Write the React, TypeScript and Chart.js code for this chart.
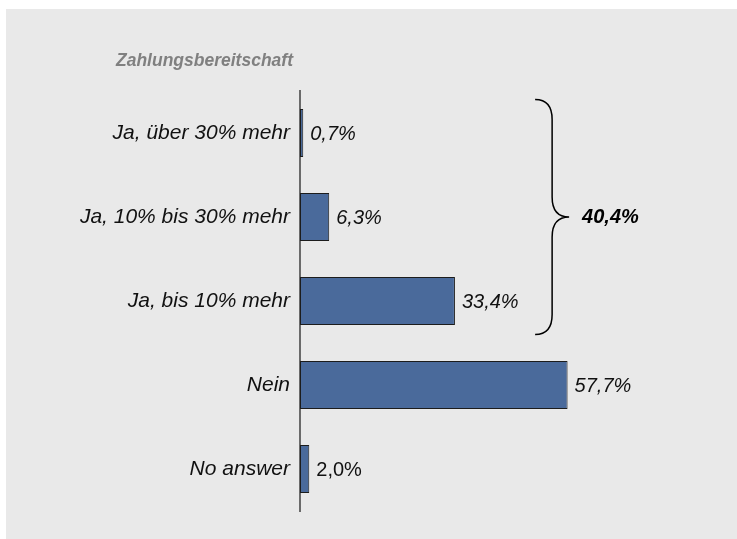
import React, { useEffect, useRef } from "react";
import { Chart, registerables } from "chart.js";

Chart.register(...registerables);

const categories = [
  "Ja, über 30% mehr",
  "Ja, 10% bis 30% mehr",
  "Ja, bis 10% mehr",
  "Nein",
  "No answer",
];
const values = [0.7, 6.3, 33.4, 57.7, 2.0];
const valueLabels = ["0,7%", "6,3%", "33,4%", "57,7%", "2,0%"];
const uprightLabels = [4];
const bracketGroup = [0, 1, 2];
const titleText = "Zahlungsbereitschaft";
const X_MAX = 80;
const BRACKET_AT = 50.7;

const FONT = '"Liberation Sans", Arial, sans-serif';

const fmt = (v: number) => v.toFixed(1).replace(".", ",") + "%";

const overlayPlugin = {
  id: "overlay",
  afterDatasetsDraw(chart: any) {
    const ctx = chart.ctx;
    const x = chart.scales.x;
    const y = chart.scales.y;
    ctx.save();
    // title
    ctx.fillStyle = "#808080";
    ctx.font = `italic bold 17.5px ${FONT}`;
    ctx.textAlign = "left";
    ctx.textBaseline = "middle";
    ctx.fillText(titleText, 110, 52);

    // value labels
    const meta = chart.getDatasetMeta(0);
    meta.data.forEach((bar: any, i: number) => {
      const style = uprightLabels.includes(i) ? "normal" : "italic";
      ctx.font = `${style} 20px ${FONT}`;
      ctx.fillStyle = "#111";
      ctx.textAlign = "left";
      ctx.textBaseline = "middle";
      ctx.fillText(valueLabels[i], bar.x + 7, bar.y + 1);
    });

    // bracket
    const first = bracketGroup[0];
    const last = bracketGroup[bracketGroup.length - 1];
    const top = y.getPixelForValue(first - 0.4);
    const bot = y.getPixelForValue(last + 0.4);
    const mid = (top + bot) / 2;
    const x0 = x.getPixelForValue(BRACKET_AT);
    const xv = x0 + 17;
    const xt = xv + 17;
    const r = 20;
    ctx.beginPath();
    ctx.moveTo(x0, top);
    ctx.quadraticCurveTo(xv, top, xv, top + r);
    ctx.lineTo(xv, mid - r);
    ctx.quadraticCurveTo(xv, mid, xt, mid);
    ctx.quadraticCurveTo(xv, mid, xv, mid + r);
    ctx.lineTo(xv, bot - r);
    ctx.quadraticCurveTo(xv, bot, x0, bot);
    ctx.strokeStyle = "#000";
    ctx.lineWidth = 1.5;
    ctx.stroke();

    const sum = bracketGroup.reduce((s, i) => s + values[i], 0);
    ctx.font = `italic bold 20px ${FONT}`;
    ctx.fillStyle = "#000";
    ctx.textAlign = "left";
    ctx.textBaseline = "middle";
    ctx.fillText(fmt(sum), xt + 13, mid);
    ctx.restore();
  },
};

export default function App() {
  const ref = useRef<HTMLCanvasElement>(null);
  useEffect(() => {
    if (!ref.current) return;
    const chart = new Chart(ref.current, {
      type: "bar",
      data: {
        labels: categories,
        datasets: [
          {
            data: values,
            backgroundColor: "#4a6a9b",
            borderColor: "#1c1c1c",
            borderWidth: 1,
            borderSkipped: false,
            barPercentage: 0.57,
            categoryPercentage: 1,
          },
        ],
      },
      options: {
        indexAxis: "y",
        responsive: false,
        animation: false,
        layout: { padding: { left: 0, top: 82, bottom: 28, right: 66 } },
        plugins: {
          legend: { display: false },
          tooltip: { enabled: false },
          title: { display: false },
        },
        scales: {
          x: { display: false, min: 0, max: X_MAX },
          y: {
            afterFit: (scale: any) => {
              scale.width = 294;
            },
            grid: { display: false, drawTicks: false },
            border: { display: true, color: "#6a6a6a", width: 2 },
            ticks: {
              padding: 10,
              color: "#111",
              font: { family: FONT, size: 21, style: "italic" },
            },
          },
        },
      },
      plugins: [overlayPlugin],
    });
    return () => chart.destroy();
  }, []);
  return (
    <div
      style={{
        position: "absolute",
        left: 6,
        top: 9,
        width: 731,
        height: 530,
        background: "#e9e9e9",
      }}
    >
      <canvas ref={ref} width={731} height={530} style={{ display: "block" }} />
    </div>
  );
}
